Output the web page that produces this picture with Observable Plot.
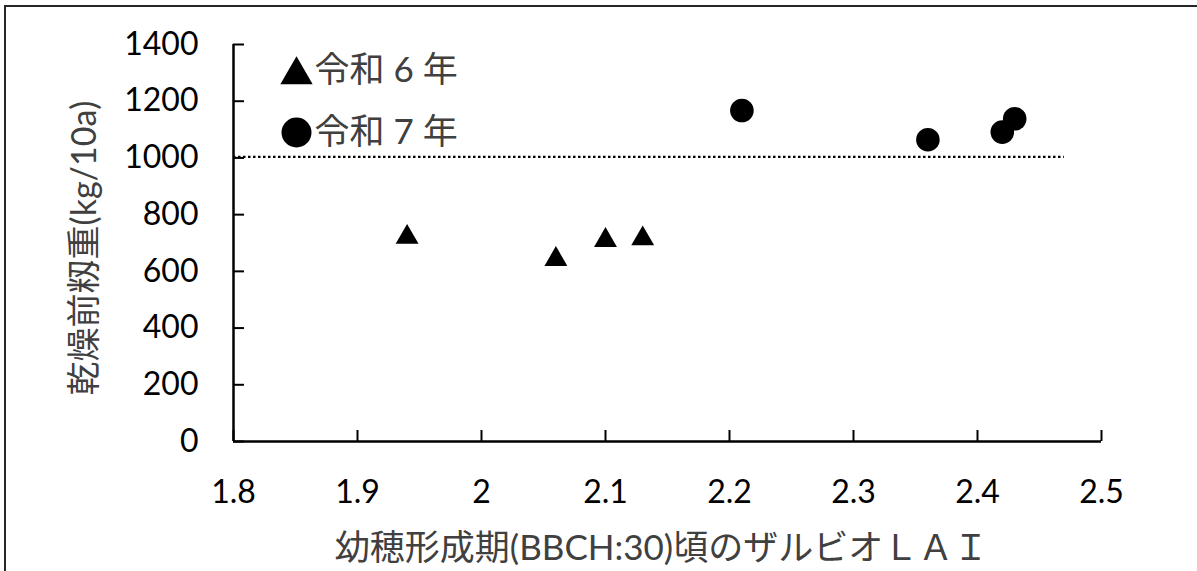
<!DOCTYPE html>
<html>
<head>
<meta charset="utf-8">
<script src="https://cdn.jsdelivr.net/npm/d3@7"></script>
<script src="https://cdn.jsdelivr.net/npm/@observablehq/plot@0.6"></script>
<style>
  html, body { margin: 0; padding: 0; background: #fff; overflow: hidden; }
  #wrap { position: relative; width: 1197px; height: 571px; }
  #border { position: absolute; left: 4px; top: 5px; width: 2000px; height: 2000px;
            border-left: 2px solid #262626; border-top: 2px solid #262626; pointer-events: none; }
  #chart { position: absolute; left: 0; top: 0; }
</style>
</head>
<body>
<div id="wrap"><div id="chart"></div><div id="border"></div></div>
<script>
// ---- data ----
const seriesNames = ["令和 6 年", "令和 7 年"];
const r6LAI   = [1.94, 2.06, 2.10, 2.13];
const r6Yield = [731, 653, 720, 726];
const r7LAI   = [2.21, 2.36, 2.42, 2.43];
const r7Yield = [1167, 1064, 1091, 1138];
const threshold = 1000;
const thresholdX = [1.8, 2.47];
const xTicks = [1.8, 1.9, 2, 2.1, 2.2, 2.3, 2.4, 2.5];
const xTickLabels = ["1.8", "1.9", "2", "2.1", "2.2", "2.3", "2.4", "2.5"];
const yTicks = [0, 200, 400, 600, 800, 1000, 1200, 1400];
const xTitle = "幼穂形成期(BBCH:30)頃のザルビオＬＡＩ";
const yTitle = "乾燥前籾重(kg/10a)";

const r6 = r6LAI.map((x, i) => ({x, y: r6Yield[i]}));
const r7 = r7LAI.map((x, i) => ({x, y: r7Yield[i]}));

const font = "Lato, 'Noto Sans CJK JP', sans-serif";
const titleColor = "#404040";

const chart = Plot.plot({
  width: 1197,
  height: 571,
  marginLeft: 233,
  marginRight: 96,
  marginTop: 44,
  marginBottom: 130,
  x: {domain: [1.8, 2.5]},
  y: {domain: [0, 1400]},
  style: {fontFamily: font, fontSize: "32px", color: "#000", background: "transparent", overflow: "visible"},
  marks: [
    // ticks pointing inward
    Plot.axisX(xTicks, {tickSize: 11, dy: -11, fill: "none", strokeWidth: 2, label: null}),
    Plot.axisY(yTicks, {tickSize: 11, dx: 11, fill: "none", strokeWidth: 2, label: null}),
    // tick labels
    Plot.axisX(xTicks, {tickSize: 0, tickPadding: 39, label: null, fontSize: 32,
      tickFormat: (d) => xTickLabels[xTicks.indexOf(d)]}),
    Plot.axisY(yTicks, {tickSize: 0, tickPadding: 35, label: null, fontSize: 32,
      tickFormat: (d) => String(d)}),
    // axis lines
    Plot.ruleY([0], {strokeWidth: 2.5}),
    Plot.ruleX([1.8], {strokeWidth: 2.5}),
    // threshold dotted line
    Plot.ruleY([threshold], {x1: thresholdX[0], x2: thresholdX[1], dy: -1, strokeWidth: 2.2, strokeDasharray: "2.5,2.5"}),
    // data
    Plot.dot(r6, {x: "x", y: "y", symbol: "triangle", r: 8.5, fill: "black", stroke: "none", dy: 3}),
    Plot.dot(r7, {x: "x", y: "y", symbol: "circle", r: 11.8, fill: "black", stroke: "none"}),
    // legend
    Plot.dot([seriesNames[0]], {frameAnchor: "top-left", dx: 63, dy: 30.5, symbol: "triangle", r: 12, fill: "black"}),
    Plot.dot([seriesNames[1]], {frameAnchor: "top-left", dx: 63, dy: 88, symbol: "circle", r: 15, fill: "black"}),
    Plot.text([seriesNames[0]], {frameAnchor: "top-left", dx: 81, dy: 26, textAnchor: "start", lineAnchor: "middle", fontSize: 35, fill: titleColor}),
    Plot.text([seriesNames[1]], {frameAnchor: "top-left", dx: 81, dy: 88, textAnchor: "start", lineAnchor: "middle", fontSize: 35, fill: titleColor}),
    // axis titles
    Plot.text([xTitle], {frameAnchor: "bottom", dx: -6, dy: 107, textAnchor: "middle", lineAnchor: "middle", fontSize: 35, fill: titleColor}),
    Plot.text([yTitle], {frameAnchor: "left", dx: -148, dy: 5, rotate: -90, textAnchor: "middle", lineAnchor: "middle", fontSize: 34, fill: titleColor})
  ]
});
document.getElementById("chart").appendChild(chart);
</script>
</body>
</html>
